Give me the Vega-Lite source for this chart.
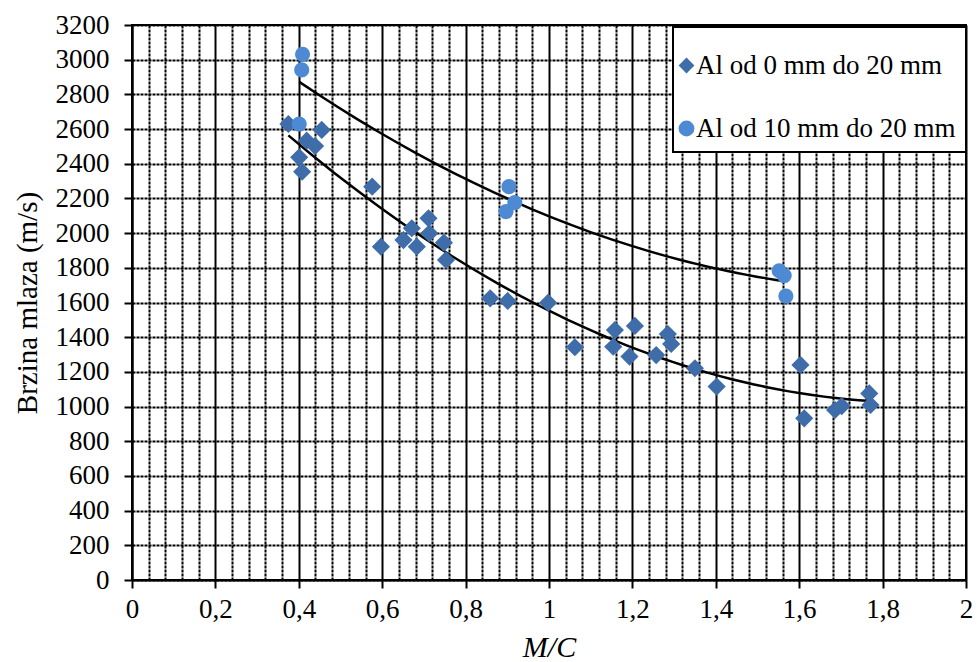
{
  "$schema": "https://vega.github.io/schema/vega-lite/v6.json",
  "width": 834,
  "height": 555,
  "autosize": {"type": "none"},
  "padding": {"left": 132, "top": 25, "right": 11, "bottom": 82},
  "background": "white",
  "config": {
    "font": "Liberation Serif",
    "view": {"stroke": "black", "strokeWidth": 2},
    "legend": {"strokeWidth": 2}
  },
  "datasets": {
    "pts": [
      {"mc": 0.375, "v": 2629, "series": "Al od 0 mm do 20 mm"},
      {"mc": 0.401, "v": 2437, "series": "Al od 0 mm do 20 mm"},
      {"mc": 0.408, "v": 2354, "series": "Al od 0 mm do 20 mm"},
      {"mc": 0.419, "v": 2533, "series": "Al od 0 mm do 20 mm"},
      {"mc": 0.439, "v": 2502, "series": "Al od 0 mm do 20 mm"},
      {"mc": 0.455, "v": 2595, "series": "Al od 0 mm do 20 mm"},
      {"mc": 0.576, "v": 2268, "series": "Al od 0 mm do 20 mm"},
      {"mc": 0.597, "v": 1922, "series": "Al od 0 mm do 20 mm"},
      {"mc": 0.651, "v": 1960, "series": "Al od 0 mm do 20 mm"},
      {"mc": 0.671, "v": 2028, "series": "Al od 0 mm do 20 mm"},
      {"mc": 0.683, "v": 1922, "series": "Al od 0 mm do 20 mm"},
      {"mc": 0.711, "v": 2086, "series": "Al od 0 mm do 20 mm"},
      {"mc": 0.713, "v": 1999, "series": "Al od 0 mm do 20 mm"},
      {"mc": 0.748, "v": 1945, "series": "Al od 0 mm do 20 mm"},
      {"mc": 0.753, "v": 1845, "series": "Al od 0 mm do 20 mm"},
      {"mc": 0.859, "v": 1624, "series": "Al od 0 mm do 20 mm"},
      {"mc": 0.901, "v": 1609, "series": "Al od 0 mm do 20 mm"},
      {"mc": 0.998, "v": 1599, "series": "Al od 0 mm do 20 mm"},
      {"mc": 1.062, "v": 1342, "series": "Al od 0 mm do 20 mm"},
      {"mc": 1.154, "v": 1345, "series": "Al od 0 mm do 20 mm"},
      {"mc": 1.158, "v": 1441, "series": "Al od 0 mm do 20 mm"},
      {"mc": 1.193, "v": 1288, "series": "Al od 0 mm do 20 mm"},
      {"mc": 1.206, "v": 1465, "series": "Al od 0 mm do 20 mm"},
      {"mc": 1.257, "v": 1297, "series": "Al od 0 mm do 20 mm"},
      {"mc": 1.285, "v": 1418, "series": "Al od 0 mm do 20 mm"},
      {"mc": 1.293, "v": 1361, "series": "Al od 0 mm do 20 mm"},
      {"mc": 1.350, "v": 1221, "series": "Al od 0 mm do 20 mm"},
      {"mc": 1.402, "v": 1115, "series": "Al od 0 mm do 20 mm"},
      {"mc": 1.603, "v": 1240, "series": "Al od 0 mm do 20 mm"},
      {"mc": 1.612, "v": 932, "series": "Al od 0 mm do 20 mm"},
      {"mc": 1.686, "v": 980, "series": "Al od 0 mm do 20 mm"},
      {"mc": 1.702, "v": 1003, "series": "Al od 0 mm do 20 mm"},
      {"mc": 1.768, "v": 1076, "series": "Al od 0 mm do 20 mm"},
      {"mc": 1.771, "v": 1009, "series": "Al od 0 mm do 20 mm"},
      {"mc": 0.409, "v": 3031, "series": "Al od 10 mm do 20 mm"},
      {"mc": 0.407, "v": 2941, "series": "Al od 10 mm do 20 mm"},
      {"mc": 0.401, "v": 2629, "series": "Al od 10 mm do 20 mm"},
      {"mc": 0.897, "v": 2124, "series": "Al od 10 mm do 20 mm"},
      {"mc": 0.904, "v": 2268, "series": "Al od 10 mm do 20 mm"},
      {"mc": 0.918, "v": 2176, "series": "Al od 10 mm do 20 mm"},
      {"mc": 1.552, "v": 1783, "series": "Al od 10 mm do 20 mm"},
      {"mc": 1.564, "v": 1755, "series": "Al od 10 mm do 20 mm"},
      {"mc": 1.568, "v": 1637, "series": "Al od 10 mm do 20 mm"}
    ]
  },
  "data": {"name": "pts"},
  "encoding": {
    "x": {
      "field": "mc",
      "type": "quantitative",
      "scale": {"domain": [0, 2], "nice": false, "zero": false},
      "axis": {
        "title": "M/C",
        "titleFontStyle": "italic",
        "titleFontWeight": "normal",
        "titleFontSize": 30,
        "titleColor": "black",
        "titlePadding": 10,
        "values": [0, 0.04, 0.08, 0.12, 0.16, 0.2, 0.24, 0.28, 0.32, 0.36, 0.4, 0.44, 0.48, 0.52, 0.56, 0.6, 0.64, 0.68, 0.72, 0.76, 0.8, 0.84, 0.88, 0.92, 0.96, 1, 1.04, 1.08, 1.12, 1.16, 1.2, 1.24, 1.28, 1.32, 1.36, 1.4, 1.44, 1.48, 1.52, 1.56, 1.6, 1.64, 1.68, 1.72, 1.76, 1.8, 1.84, 1.88, 1.92, 1.96, 2],
        "labelExpr": "abs(datum.value*5 - round(datum.value*5)) < 0.001 ? replace(format(datum.value, '~g'), '.', ',') : ''",
        "labelFontSize": 27,
        "labelColor": "black",
        "labelPadding": 8,
        "labelOverlap": false,
        "labelFlush": false,
        "tickSize": 8,
        "tickColor": "black",
        "tickWidth": 2,
        "tickOpacity": {"condition": {"test": "abs(datum.value*5 - round(datum.value*5)) < 0.001", "value": 1}, "value": 0},
        "domainColor": "black",
        "domainWidth": 2,
        "grid": true,
        "gridColor": "black",
        "gridOpacity": 1,
        "gridWidth": 2,
        "gridDash": {"condition": {"test": "abs(datum.value*5 - round(datum.value*5)) < 0.001", "value": []}, "value": [3, 1]}
      }
    },
    "y": {
      "field": "v",
      "type": "quantitative",
      "scale": {"domain": [0, 3200], "nice": false},
      "axis": {
        "title": "Brzina mlaza (m/s)",
        "titleFontWeight": "normal",
        "titleFontSize": 29,
        "titleColor": "black",
        "titlePadding": 13,
        "values": [0, 200, 400, 600, 800, 1000, 1200, 1400, 1600, 1800, 2000, 2200, 2400, 2600, 2800, 3000, 3200],
        "labelFontSize": 27,
        "labelColor": "black",
        "labelPadding": 15,
        "labelOverlap": false,
        "labelFlush": false,
        "format": "d",
        "tickSize": 8,
        "tickColor": "black",
        "tickWidth": 2,
        "domainColor": "black",
        "domainWidth": 2,
        "grid": true,
        "gridColor": "black",
        "gridOpacity": 1,
        "gridWidth": 2,
        "gridDash": [3, 1]
      }
    }
  },
  "layer": [
    {
      "transform": [
        {"regression": "v", "on": "mc", "method": "poly", "order": 2, "groupby": ["series"]}
      ],
      "mark": {"type": "line", "color": "black", "strokeWidth": 2.5},
      "encoding": {
        "detail": {"field": "series", "type": "nominal"}
      }
    },
    {
      "mark": {"type": "point", "filled": true, "opacity": 1, "strokeWidth": 0},
      "encoding": {
        "color": {
          "field": "series",
          "type": "nominal",
          "scale": {"domain": ["Al od 0 mm do 20 mm", "Al od 10 mm do 20 mm"], "range": ["#3E6DA9", "#4D8AD3"]},
          "legend": {
            "title": " ",
            "titleFontSize": 14,
            "titlePadding": 1,
            "orient": "none",
            "legendX": 541,
            "legendY": 2,
            "fillColor": "white",
            "strokeColor": "black",
            "padding": 10,
            "labelFontSize": 27,
            "labelColor": "black",
            "labelLimit": 400,
            "labelOffset": -4,
            "symbolOffset": -10,
            "symbolSize": 250,
            "symbolStrokeWidth": 0,
            "rowPadding": 35
          }
        },
        "shape": {
          "field": "series",
          "type": "nominal",
          "scale": {"domain": ["Al od 0 mm do 20 mm", "Al od 10 mm do 20 mm"], "range": ["diamond", "circle"]}
        },
        "size": {
          "condition": {"test": "datum.series === 'Al od 0 mm do 20 mm'", "value": 330},
          "value": 230
        }
      }
    }
  ]
}
